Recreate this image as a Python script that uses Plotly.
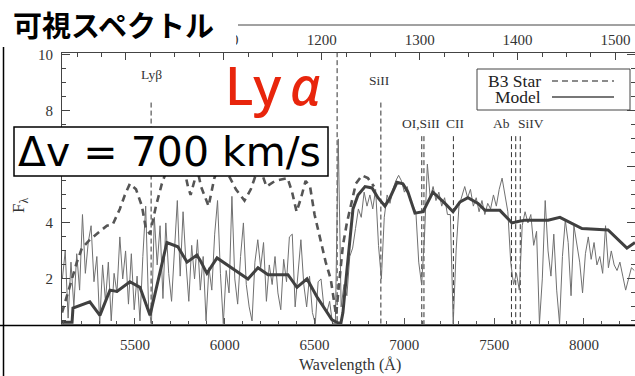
import plotly.graph_objects as go

# ---------------- data ----------------
# Observed spectrum: regular wavelength bins (Å) and flux per bin
spec_start = 5096
spec_step = 16
spec_flux = [
    2.0, 3.0, 0.6, 2.6, 1.0, 2.9, 1.6, 4.3, 2.2, 3.3,
    3.9, 1.9, 2.8, 0.4, 2.5, 1.2, 2.6, 0.5, 2.2, 1.5,
    3.5, 2.0, 3.0, 1.1, 2.9, 0.9, 2.1, 0.5, 2.8, 4.6,
    1.0, 0.4, 4.2, 2.5, 3.9, 1.3, 4.0, 2.2, 1.2, 3.0,
    4.8, 2.1, 4.4, 2.6, 1.2, 3.2, 2.0, 3.4, 1.6, 2.8,
    0.5, 2.4, 1.6, 3.6, 4.8, 2.2, 0.4, 2.3, 1.5, 4.95,
    2.0, 1.1, 2.8, 4.0, 1.8, 1.0, 0.5, 2.6, 3.4, 2.4,
    3.3, 1.2, 2.5, 1.8, 2.8, 1.5, 0.9, 2.7, 1.9, 3.5,
    3.6, 1.0, 2.2, 3.4, 1.8, 1.0, 2.1, 0.8, 0.4, 1.9,
    2.0, 1.0, 0.8, 1.2, 0.4, 0.4, 7.0, 1.0, 1.8, 1.4,
    2.8, 3.1, 3.8, 4.5, 4.2, 5.1, 4.6, 5.0, 4.5, 5.2,
    3.2, 2.0, 4.2, 5.0, 4.7, 5.2, 5.5, 5.7, 5.5, 5.1,
    5.3, 4.8, 4.6, 4.4, 2.6, 1.8, 3.5, 6.1, 4.9, 5.3,
    4.8, 5.1, 4.6, 4.9, 4.3, 4.3, 0.4, 3.0, 4.6, 5.0,
    5.3, 4.9, 5.2, 4.6, 4.9, 4.4, 4.8, 4.3, 4.7, 4.5,
    5.0, 4.6, 5.2, 5.6, 5.0, 4.4, 2.6, 1.8, 2.2, 1.6,
    3.9, 4.4, 4.0, 4.3, 3.2, 3.7, 0.4, 2.0, 4.8, 3.0,
    2.1, 3.6, 1.6, 0.4, 2.8, 4.1, 3.3, 1.4, 3.9, 3.2,
    2.6, 1.5, 2.9, 3.5, 2.7, 3.3, 2.5, 2.8, 2.2, 3.9,
    2.4, 3.0, 2.5, 2.3, 2.6, 2.1, 1.6, 2.0, 2.4, 2.3,
]
spec_wave = [spec_start + spec_step * i for i in range(len(spec_flux))]

# B3 star template
star_wave = [5094, 5138, 5177, 5205, 5249, 5305, 5344, 5377, 5416, 5444,
             5472, 5506, 5539, 5561, 5584, 5617, 5650, 5678, 5723, 5775,
             5795, 5810, 5830, 5848, 5868, 5910, 5942, 5980, 6030, 6062,
             6110, 6145, 6172, 6200, 6232, 6280, 6350, 6375, 6400, 6425,
             6450, 6475, 6500, 6522, 6542, 6562, 6590, 6605, 6620, 6636,
             6658, 6680, 6703, 6730, 6764, 6797, 6831]
star_flux = [0.8, 1.8, 2.6, 3.1, 3.4, 3.7, 3.9, 3.95, 4.5, 5.0,
             5.4, 5.2, 4.6, 3.8, 3.6, 4.6, 5.4, 5.9, 6.3, 5.9,
             5.3, 5.0, 5.5, 5.9, 5.3, 4.6, 5.6, 6.2, 5.6, 5.2,
             4.8, 5.2, 5.7, 5.9, 5.3, 5.5, 5.6, 5.1, 4.4, 4.9,
             5.5, 5.3, 4.3, 3.7, 3.2, 2.6, 2.0, 1.4, 0.7, 1.8,
             3.2, 4.0, 4.7, 5.4, 5.7, 5.6, 5.3]

# Model spectrum
model_wave = [5094, 5150, 5155, 5249, 5305, 5361, 5400, 5472, 5528, 5584,
              5678, 5739, 5790, 5845, 5862, 5901, 5957, 6040, 6129, 6185,
              6241, 6352, 6402, 6458, 6513, 6597, 6630, 6647, 6658, 6680,
              6697, 6714, 6742, 6781, 6820, 6853, 6892, 6920, 6959, 6992,
              7020, 7059, 7104, 7159, 7226, 7271, 7310, 7354, 7410, 7449,
              7532, 7599, 7633, 7672, 7800, 7866, 7989, 8134, 8239, 8284]
model_flux = [0.45, 0.45, 0.96, 1.18, 0.7, 1.6, 1.55, 1.9, 1.7, 0.7,
              3.3, 3.15, 2.6, 2.85, 2.68, 2.2, 2.75, 2.4, 2.0, 2.4,
              2.15, 2.15, 1.7, 2.0, 1.36, 0.54, 0.43, 0.43, 0.8, 2.3,
              3.5, 4.5, 5.0, 5.3, 5.25, 4.9, 4.6, 4.9, 5.45, 5.4,
              5.1, 4.35, 4.4, 5.1, 4.7, 4.4, 4.75, 4.9, 4.7, 4.45,
              4.45, 4.0, 4.05, 4.1, 4.1, 4.2, 3.8, 3.75, 3.1, 3.3]

# Redshift factor (1+z) linking observed and rest-frame wavelengths
one_plus_z = 5.45

# Line identifications: rest wavelengths (Å); the A-band is telluric (observed frame)
line_rest = [1025.7, 1215.7, 1260.4, 1302.2, 1304.4, 1334.5, 1393.8, 1402.8]
line_top = [8.3, 10.1, 8.3, 7.1, 7.1, 7.1, 7.1, 7.1]
aband_obs = 7620
aband_top = 7.1

label_text = ["Lyβ", "SiII", "OI,SiII", "CII", "Ab", "SiIV"]
label_wave = [5590, 6862, 7092, 7287, 7538, 7705]
label_flux = [9.29, 9.1, 7.54, 7.54, 7.54, 7.54]

x_range = [5094, 8284]
y_range = [0.39, 10.07]

# ---------------- page geometry ----------------
W, H = 635, 376
L, R, T, B = 62, 635, 53, 324


def px(x):
    return (x - L) / (R - L)


def py(y):
    return (B - y) / (B - T)


SERIF = "Liberation Serif, Times New Roman, serif"

fig = go.Figure()

# identification markers (dashed verticals)
mk_x, mk_y = [], []
for w, top in zip(line_rest, line_top):
    mk_x += [w * one_plus_z, w * one_plus_z, None]
    mk_y += [top, y_range[0], None]
mk_x += [aband_obs, aband_obs, None]
mk_y += [aband_top, y_range[0], None]
fig.add_trace(go.Scatter(x=mk_x, y=mk_y, mode="lines", showlegend=False,
                         line=dict(color="#333333", width=1, dash="5px,3px"),
                         hoverinfo="skip"))

fig.add_trace(go.Scatter(x=spec_wave, y=spec_flux, mode="lines",
                         line=dict(color="#707070", width=1), showlegend=False))
fig.add_trace(go.Scatter(x=star_wave, y=star_flux, mode="lines",
                         line=dict(color="#555555", width=2.6, dash="7px,5px"),
                         showlegend=False))
fig.add_trace(go.Scatter(x=model_wave, y=model_flux, mode="lines",
                         line=dict(color="#404040", width=3), showlegend=False))
# rest-frame axis carrier
fig.add_trace(go.Scatter(x=[], y=[], xaxis="x2", showlegend=False, hoverinfo="skip"))

tickfont = dict(family=SERIF, size=15, color="#333333")

fig.update_layout(
    width=W, height=H,
    margin=dict(l=L, r=W - R, t=T, b=H - B),
    paper_bgcolor="white", plot_bgcolor="white",
    xaxis=dict(range=x_range, tickmode="linear", tick0=5500, dtick=500,
               ticks="inside", ticklen=6, tickcolor="#555555",
               minor=dict(dtick=100, ticks="inside", ticklen=3, tickcolor="#555555"),
               showline=True, linecolor="#777777", linewidth=2, mirror=False,
               showgrid=False, zeroline=False, tickfont=tickfont,
               ticklabelstandoff=6),
    xaxis2=dict(range=[x_range[0] / one_plus_z, x_range[1] / one_plus_z],
                overlaying="x", side="top", anchor="y",
                tickmode="linear", tick0=1000, dtick=100,
                ticks="inside", ticklen=7, tickcolor="#444444",
                minor=dict(dtick=25, ticks="inside", ticklen=4, tickcolor="#444444"),
                showline=True, linecolor="#444444", linewidth=1,
                showgrid=False, zeroline=False, tickfont=tickfont,
                ticklabelstandoff=1),
    yaxis=dict(range=y_range, tickmode="linear", tick0=0, dtick=2,
               ticks="inside", ticklen=8, tickcolor="#444444",
               minor=dict(dtick=0.5, ticks="inside", ticklen=4, tickcolor="#444444"),
               showline=True, linecolor="#444444", linewidth=1, mirror="ticks",
               showgrid=False, zeroline=False, tickfont=tickfont,
               ticklabelstandoff=5),
)

shapes = []
annotations = []


def note(x, y, text, font, xanchor="center", **kw):
    annotations.append(dict(x=px(x), y=py(y), xref="paper", yref="paper",
                            xanchor=xanchor, yanchor="middle", text=text,
                            showarrow=False, font=font, **kw))


# line labels
for t, w, f in zip(label_text, label_wave, label_flux):
    annotations.append(dict(x=w, y=f, xref="x", yref="y", text=t, showarrow=False,
                            xanchor="center", yanchor="middle",
                            font=dict(family=SERIF, size=13.5, color="#333333")))

# axis titles
note(350, 365, "Wavelength (Å)", dict(family=SERIF, size=16, color="#333333"))
note(20, 206, "F<sub>λ</sub>", dict(family=SERIF, size=17, color="#333333"), textangle=-90)

# legend box
shapes.append(dict(type="rect", xref="paper", yref="paper",
                   x0=px(477), x1=px(630), y0=py(110), y1=py(69),
                   line=dict(color="#444444", width=1), fillcolor="white", layer="above"))
shapes.append(dict(type="line", xref="paper", yref="paper",
                   x0=px(552), x1=px(614), y0=py(81), y1=py(81),
                   line=dict(color="#666666", width=1.5, dash="6px,4px"), layer="above"))
shapes.append(dict(type="line", xref="paper", yref="paper",
                   x0=px(552), x1=px(614), y0=py(97), y1=py(97),
                   line=dict(color="#777777", width=2), layer="above"))
note(543, 81, "B3 Star", dict(family=SERIF, size=17.5, color="#222222"), xanchor="right")
note(543, 97, "Model", dict(family=SERIF, size=17.5, color="#222222"), xanchor="right")

# frame line above the rest-frame labels
shapes.append(dict(type="line", xref="paper", yref="paper",
                   x0=px(238), x1=px(635), y0=py(25), y1=py(25),
                   line=dict(color="#444444", width=1), layer="above"))

# title panel
shapes.append(dict(type="rect", xref="paper", yref="paper",
                   x0=px(-2), x1=px(236), y0=py(45), y1=py(-2),
                   line=dict(width=0), fillcolor="white", layer="above"))
note(11, 24, "可視スペクトル",
     dict(family="Noto Sans CJK JP", size=29, color="black", weight="bold"),
     xanchor="left")

# velocity box
shapes.append(dict(type="rect", xref="paper", yref="paper",
                   x0=px(14), x1=px(328), y0=py(176), y1=py(127),
                   line=dict(color="black", width=1.5), fillcolor="white", layer="above"))
note(169, 152, "Δv = 700 km/s",
     dict(family="DejaVu Sans", size=41, color="black"))

# Lyα callout
note(273, 84, "Ly\u2009<i>α</i>",
     dict(family="Noto Sans", size=53, color="#E8250C", weight=500))

# slide guide lines
shapes.append(dict(type="line", xref="paper", yref="paper",
                   x0=px(3.5), x1=px(3.5), y0=py(47), y1=py(378),
                   line=dict(color="black", width=1.5), layer="above"))
shapes.append(dict(type="line", xref="paper", yref="paper",
                   x0=px(0), x1=px(636), y0=py(325.5), y1=py(325.5),
                   line=dict(color="black", width=1.5), layer="above"))

fig.update_layout(shapes=shapes, annotations=annotations)

fig.write_html("out.html")
